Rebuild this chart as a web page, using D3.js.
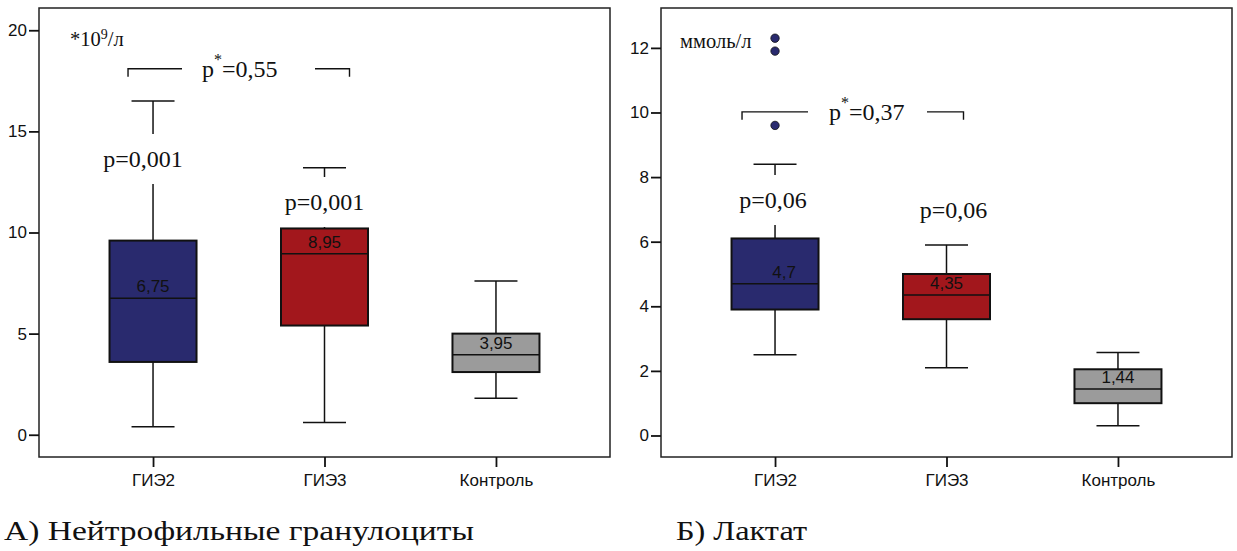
<!DOCTYPE html>
<html>
<head>
<meta charset="utf-8">
<script src="https://cdn.jsdelivr.net/npm/d3@7"></script>
<style>
  body { margin: 0; background: #fff; }
  svg { display: block; }
  .serif { font-family: "Liberation Serif", "Times New Roman", "DejaVu Serif", serif; }
  .sans { font-family: "Liberation Sans", Arial, sans-serif; }
</style>
</head>
<body>
<div id="chart"></div>
<script>
// groups on the x axis
const categories = ["ГИЭ2", "ГИЭ3", "Контроль"];
const boxColors = ["#292a6e", "#a2171c", "#9b9b9b"];

// A) neutrophils, *10^9/l
const neutroLow    = [0.4, 0.6, 1.8];
const neutroQ1     = [3.6, 5.4, 3.1];
const neutroMedian = [6.75, 8.95, 3.95];
const neutroQ3     = [9.6, 10.2, 5.0];
const neutroHigh   = [16.5, 13.2, 7.6];
const neutroLabels = ["6,75", "8,95", "3,95"];
const neutroTicks  = [0, 5, 10, 15, 20];
const neutroP      = ["p=0,001", "p=0,001", null];

// Б) lactate, mmol/l
const lactLow    = [2.5, 2.1, 0.3];
const lactQ1     = [3.9, 3.6, 1.0];
const lactMedian = [4.7, 4.35, 1.44];
const lactQ3     = [6.1, 5.0, 2.05];
const lactHigh   = [8.4, 5.9, 2.57];
const lactLabels = ["4,7", "4,35", "1,44"];
const lactOutliers = [[12.3, 11.9, 9.6], [], []];
const lactTicks  = [0, 2, 4, 6, 8, 10, 12];
const lactP      = ["p=0,06", "p=0,06", null];

const width = 1237, height = 551;

const svg = d3.select("#chart")
    .append("svg")
    .attr("width", width)
    .attr("height", height);

// one boxplot panel
function drawPanel(opt) {
    const x = d3.scalePoint()
        .domain(categories)
        .range([opt.left, opt.right])
        .padding(0.665);
    const y = d3.scaleLinear()
        .domain(opt.domain)
        .range([457, 8]);

    const g = svg.append("g");

    // frame
    g.append("rect")
        .attr("x", opt.left)
        .attr("y", 8)
        .attr("width", opt.right - opt.left)
        .attr("height", 449)
        .attr("fill", "none")
        .attr("stroke", "#222")
        .attr("stroke-width", 1.5);

    // y axis
    const yAxis = g.append("g")
        .attr("transform", `translate(${opt.left},0)`)
        .call(d3.axisLeft(y).tickValues(opt.ticks).tickSize(10).tickPadding(2).tickFormat(d3.format("d")));
    yAxis.attr("font-family", null).attr("font-size", null);
    yAxis.select(".domain").remove();
    yAxis.selectAll("line").attr("stroke", "#111").attr("stroke-width", 1.8);
    yAxis.selectAll("text")
        .attr("class", "sans")
        .attr("font-size", 17)
        .attr("fill", "#111");

    // x axis
    const xAxis = g.append("g")
        .attr("transform", `translate(0,457)`)
        .call(d3.axisBottom(x).tickSize(10).tickPadding(7));
    xAxis.attr("font-family", null).attr("font-size", null);
    xAxis.select(".domain").remove();
    xAxis.selectAll("line").attr("stroke", "#111").attr("stroke-width", 1.8);
    xAxis.selectAll("text")
        .attr("class", "sans")
        .attr("font-size", 17)
        .attr("fill", "#111");

    const boxW = 87, capW = 43;

    categories.forEach((c, i) => {
        const cx = x(c);

        // whisker
        g.append("line")
            .attr("x1", cx).attr("x2", cx)
            .attr("y1", y(opt.high[i])).attr("y2", y(opt.low[i]))
            .attr("stroke", "#111").attr("stroke-width", 1.5);
        [opt.high[i], opt.low[i]].forEach(v => {
            g.append("line")
                .attr("x1", cx - capW / 2).attr("x2", cx + capW / 2)
                .attr("y1", y(v)).attr("y2", y(v))
                .attr("stroke", "#111").attr("stroke-width", 1.5);
        });

        // box
        g.append("rect")
            .attr("x", cx - boxW / 2)
            .attr("y", y(opt.q3[i]))
            .attr("width", boxW)
            .attr("height", y(opt.q1[i]) - y(opt.q3[i]))
            .attr("fill", boxColors[i])
            .attr("stroke", "#111")
            .attr("stroke-width", 2);

        // median
        g.append("line")
            .attr("x1", cx - boxW / 2).attr("x2", cx + boxW / 2)
            .attr("y1", y(opt.median[i])).attr("y2", y(opt.median[i]))
            .attr("stroke", "#111").attr("stroke-width", 1.5);

        g.append("text")
            .attr("class", "sans")
            .attr("x", cx + (opt.labelShift[i] || 0))
            .attr("y", y(opt.median[i]) - 6)
            .attr("text-anchor", "middle")
            .attr("font-size", 17)
            .attr("fill", "#111")
            .text(opt.labels[i]);

        // outliers
        (opt.outliers ? opt.outliers[i] : []).forEach(v => {
            g.append("circle")
                .attr("cx", cx).attr("cy", y(v)).attr("r", 4.2)
                .attr("fill", boxColors[i])
                .attr("stroke", "#111").attr("stroke-width", 0.8);
        });

        // p label over the whisker
        if (opt.p[i]) {
            const by = opt.pY[i];
            const tw = 84;
            g.append("rect")
                .attr("x", cx + opt.pShift[i] - tw / 2)
                .attr("y", by - 33)
                .attr("width", tw)
                .attr("height", 50)
                .attr("fill", "#fff");
            g.append("text")
                .attr("class", "serif")
                .attr("x", cx + opt.pShift[i])
                .attr("y", by)
                .attr("text-anchor", "middle")
                .attr("font-size", 24)
                .attr("fill", "#111")
                .text(opt.p[i]);
        }
    });

    // bracket between the two patient groups
    const bx1 = x(categories[0]) + opt.bracket[0];
    const bx2 = x(categories[1]) + opt.bracket[1];
    const byy = y(opt.bracketY);
    g.append("path")
        .attr("d", `M${bx1},${byy + 8}V${byy}H${opt.gap[0]}M${opt.gap[1]},${byy}H${bx2}V${byy + 8}`)
        .attr("fill", "none")
        .attr("stroke", "#111")
        .attr("stroke-width", 1.4);

    const st = g.append("text")
        .attr("class", "serif")
        .attr("x", opt.starX)
        .attr("y", byy + 8)
        .attr("font-size", 24)
        .attr("fill", "#111");
    st.append("tspan").text("p");
    st.append("tspan").attr("dy", -12).attr("font-size", 16).text("*");
    st.append("tspan").attr("dy", 12).text("=" + opt.star);

    // unit
    const u = g.append("text")
        .attr("class", "serif")
        .attr("x", opt.unitX)
        .attr("y", opt.unitY)
        .attr("font-size", 20.5)
        .attr("fill", "#111");
    opt.unit.forEach(part => {
        const t = u.append("tspan").text(part.t);
        if (part.sup) t.attr("dy", -7).attr("font-size", 14);
        if (part.down) t.attr("dy", 7);
    });

    // caption
    svg.append("text")
        .attr("class", "serif")
        .attr("x", opt.capX)
        .attr("y", 540)
        .attr("font-size", 28)
        .attr("textLength", opt.capLen)
        .attr("lengthAdjust", "spacingAndGlyphs")
        .attr("fill", "#111")
        .text(opt.caption);
}

drawPanel({
    left: 39, right: 610,
    domain: [-1.1, 21.1],
    ticks: neutroTicks,
    low: neutroLow, q1: neutroQ1, median: neutroMedian, q3: neutroQ3, high: neutroHigh,
    labels: neutroLabels, labelShift: [0, 0, 0],
    p: neutroP, pY: [167, 210, 0], pShift: [-10, 0, 0],
    bracket: [-25, 25], bracketY: 18.1, gap: [182, 315],
    starX: 202, star: "0,55",
    unit: [{t: "*10"}, {t: "9", sup: true}, {t: "/л", down: true}],
    unitX: 70, unitY: 46,
    capX: 4, capLen: 470, caption: "А) Нейтрофильные гранулоциты"
});

drawPanel({
    left: 661, right: 1232,
    domain: [-0.666, 13.235],
    ticks: lactTicks,
    low: lactLow, q1: lactQ1, median: lactMedian, q3: lactQ3, high: lactHigh,
    labels: lactLabels, labelShift: [9, 0, 0],
    outliers: lactOutliers,
    p: lactP, pY: [208, 218, 0], pShift: [-2, 7, 0],
    bracket: [-33, 17], bracketY: 10.02, gap: [808, 927],
    starX: 829, star: "0,37",
    unit: [{t: "ммоль/л"}],
    unitX: 680, unitY: 48,
    capX: 676, capLen: 131, caption: "Б) Лактат"
});
</script>
</body>
</html>
